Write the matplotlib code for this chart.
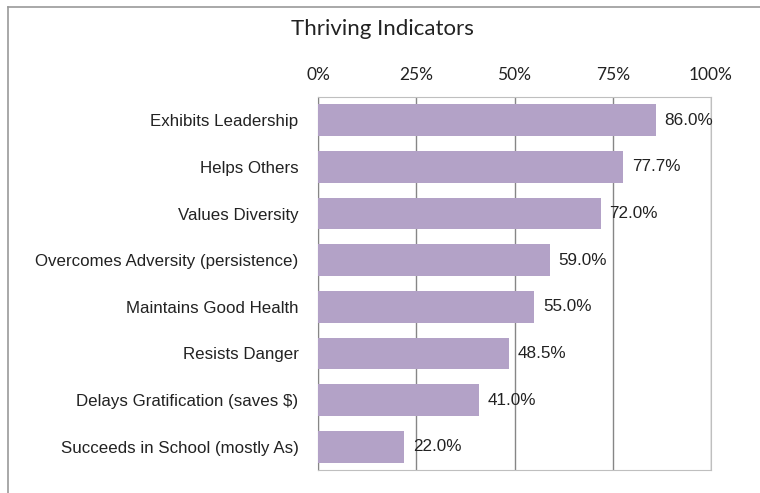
import matplotlib.pyplot as plt
import numpy as np

categories = ["Exhibits Leadership", "Helps Others", "Values Diversity",
              "Overcomes Adversity (persistence)", "Maintains Good Health",
              "Resists Danger", "Delays Gratification (saves $)",
              "Succeeds in School (mostly As)"]
values = [86.0, 77.7, 72.0, 59.0, 55.0, 48.5, 41.0, 22.0]
ticks = [0, 25, 50, 75, 100]
tick_labels = ["0%", "25%", "50%", "75%", "100%"]

fig = plt.figure(figsize=(7.6, 4.93), dpi=100)
ax = fig.add_axes([318/760, 23/493, (711-318)/760, (470-97)/493])

y = np.arange(len(categories))
ax.barh(y, values, height=0.68, color="#B3A2C7", zorder=3)
ax.set_ylim(len(categories) - 0.5, -0.5)
ax.set_xlim(0, 100)

for yi, v in zip(y, values):
    ax.text(v + 2.2, yi, f"{v:.1f}%", va="center", ha="left",
            fontsize=12.3, family="Liberation Sans", color="#222222", zorder=4)

ax.xaxis.tick_top()
ax.set_xticks(ticks)
ax.set_xticklabels(tick_labels, family="Lato", fontsize=12.5, color="#222222")
ax.tick_params(axis="x", length=0, pad=10)
ax.set_yticks(y)
ax.set_yticklabels(categories, family="Liberation Sans", fontsize=12.2, color="#222222")
ax.tick_params(axis="y", length=0, pad=14)

ax.grid(axis="x", color="#868686", linewidth=1, zorder=1)
for s in ["top", "right", "bottom"]:
    ax.spines[s].set_color("#BFBFBF")
ax.spines["left"].set_color("#868686")

fig.text(382/760, 1 - 29/493, "Thriving Indicators", ha="center", va="center",
         family="Lato", fontsize=16, color="#222222")

# outer chart frame
fig.add_artist(plt.Line2D([8/760, 1], [1 - 7/493, 1 - 7/493], color="#9A9A9A", linewidth=1.2))
fig.add_artist(plt.Line2D([8/760, 8/760], [0, 1 - 7/493], color="#9A9A9A", linewidth=1.2))

fig.savefig("out.png", dpi=100)
